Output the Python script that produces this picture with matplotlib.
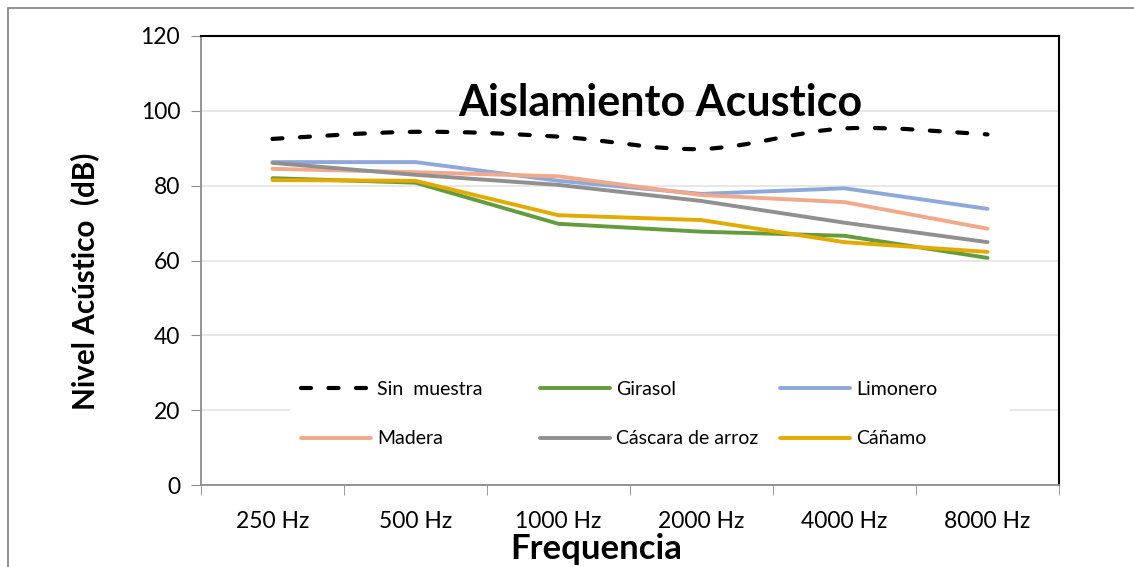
import matplotlib
matplotlib.use("Agg")
import matplotlib.pyplot as plt
from matplotlib.path import Path
from matplotlib.patches import PathPatch, Rectangle
from matplotlib.lines import Line2D
import numpy as np

plt.rcParams['font.family'] = ['Lato', 'DejaVu Sans']

frequencies = ["250 Hz", "500 Hz", "1000 Hz", "2000 Hz", "4000 Hz", "8000 Hz"]
sin_muestra = [92.5, 94.4, 93.1, 89.8, 95.3, 93.7]
girasol = [82.0, 80.8, 69.8, 67.7, 66.6, 60.7]
limonero = [86.3, 86.3, 81.3, 77.8, 79.3, 73.8]
madera = [84.5, 83.6, 82.5, 77.5, 75.6, 68.5]
cascara = [86.1, 82.9, 80.2, 75.9, 70.1, 64.9]
canamo = [81.5, 81.3, 72.1, 70.8, 64.9, 62.3]

W, H = 1134, 567
fig = plt.figure(figsize=(W / 100, H / 100), dpi=100)

# outer chart border (cut off at right and bottom like the screenshot)
fig.patches.append(Rectangle((8 / W, -0.1), 1.2, (H - 8) / H + 0.1,
                             transform=fig.transFigure, fill=False,
                             edgecolor="#7f7f7f", linewidth=1.2))

ax = fig.add_axes([201 / W, 82 / H, 858 / W, 449 / H])
x = np.arange(len(frequencies))


def smooth_path(xs, ys):
    # Catmull-Rom style bezier through the points (Excel "smoothed line")
    pts = np.column_stack([xs, ys]).astype(float)
    verts = [pts[0]]
    codes = [Path.MOVETO]
    n = len(pts)
    for i in range(n - 1):
        p0 = pts[i - 1] if i > 0 else pts[i]
        p1 = pts[i]
        p2 = pts[i + 1]
        p3 = pts[i + 2] if i + 2 < n else pts[i + 1]
        c1 = p1 + (p2 - p0) / 6.0
        c2 = p2 - (p3 - p1) / 6.0
        verts += [c1, c2, p2]
        codes += [Path.CURVE4] * 3
    return Path(verts, codes)


dash_style = dict(color="black", linewidth=3.0, linestyle=(0, (2.4, 4.2)),
                  dash_capstyle="round")
ax.add_patch(PathPatch(smooth_path(x, sin_muestra), fill=False,
                       edgecolor="black", linewidth=3.0,
                       linestyle=(0, (2.4, 4.2)), capstyle="round", zorder=3))

series = [
    ("Girasol", girasol, "#649c3d"),
    ("Limonero", limonero, "#8fa8db"),
    ("Madera", madera, "#f2a98a"),
    ("Cáscara de arroz", cascara, "#909090"),
    ("Cáñamo", canamo, "#e3aa00"),
]
handles = [Line2D([], [], **dash_style)]
labels = ["Sin  muestra"]
for name, vals, col in series:
    h, = ax.plot(x, vals, color=col, linewidth=2.8, solid_capstyle="round",
                 zorder=3)
    handles.append(h)
    labels.append(name)

ax.set_xlim(-0.5, len(frequencies) - 0.5)
ax.set_ylim(0, 120)
ax.set_yticks(range(0, 121, 20))
ax.set_xticks(x)
ax.set_xticklabels(frequencies)
ax.set_xticks(np.arange(-0.5, len(frequencies)), minor=True)
ax.tick_params(axis="x", which="major", length=0, labelsize=16.5, pad=19)
ax.tick_params(axis="x", which="minor", length=7, color="#8c8c8c",
               direction="out")
ax.tick_params(axis="y", length=7, color="#8c8c8c", labelsize=16.5, pad=8)
ax.grid(axis="y", color="#e3e3e3", linewidth=1.2, zorder=0)
ax.set_axisbelow(True)
ax.spines["left"].set_color("#8c8c8c")
ax.spines["bottom"].set_color("#8c8c8c")
ax.spines["left"].set_linewidth(1.3)
ax.spines["bottom"].set_linewidth(1.3)
ax.spines["top"].set_linewidth(1.5)
ax.spines["right"].set_linewidth(1.5)

ax.text(0.535, 0.851, "Aislamiento Acustico", transform=ax.transAxes,
        ha="center", va="center", fontsize=31, fontweight="bold", zorder=4)

fig.text(85 / W, 0.503, "Nivel Acústico  (dB)", rotation=90, ha="center",
         va="center", fontsize=21.3, fontweight="bold")
fig.text(596 / W, 0.032, "Frequencia", ha="center", va="center",
         fontsize=25, fontweight="bold")

# white legend area hiding the gridline, then one legend per column
ax.add_patch(Rectangle((0.1037, 0.051), 0.8393, 0.216, transform=ax.transAxes,
                       facecolor="white", edgecolor="none", zorder=4))
col_x = [0.1166, 0.395, 0.675]
columns = [[0, 3], [1, 4], [2, 5]]
legends = []
for cx, idx in zip(col_x, columns):
    leg = ax.legend([handles[i] for i in idx], [labels[i] for i in idx],
                    loc="center left", bbox_to_anchor=(cx, 0.158),
                    frameon=False, fontsize=14, handlelength=3.6,
                    handletextpad=0.3, labelspacing=1.69, borderpad=0,
                    borderaxespad=0)
    leg.set_zorder(5)
    legends.append(leg)
for leg in legends[:-1]:
    ax.add_artist(leg)

fig.savefig("out.png", dpi=100)
